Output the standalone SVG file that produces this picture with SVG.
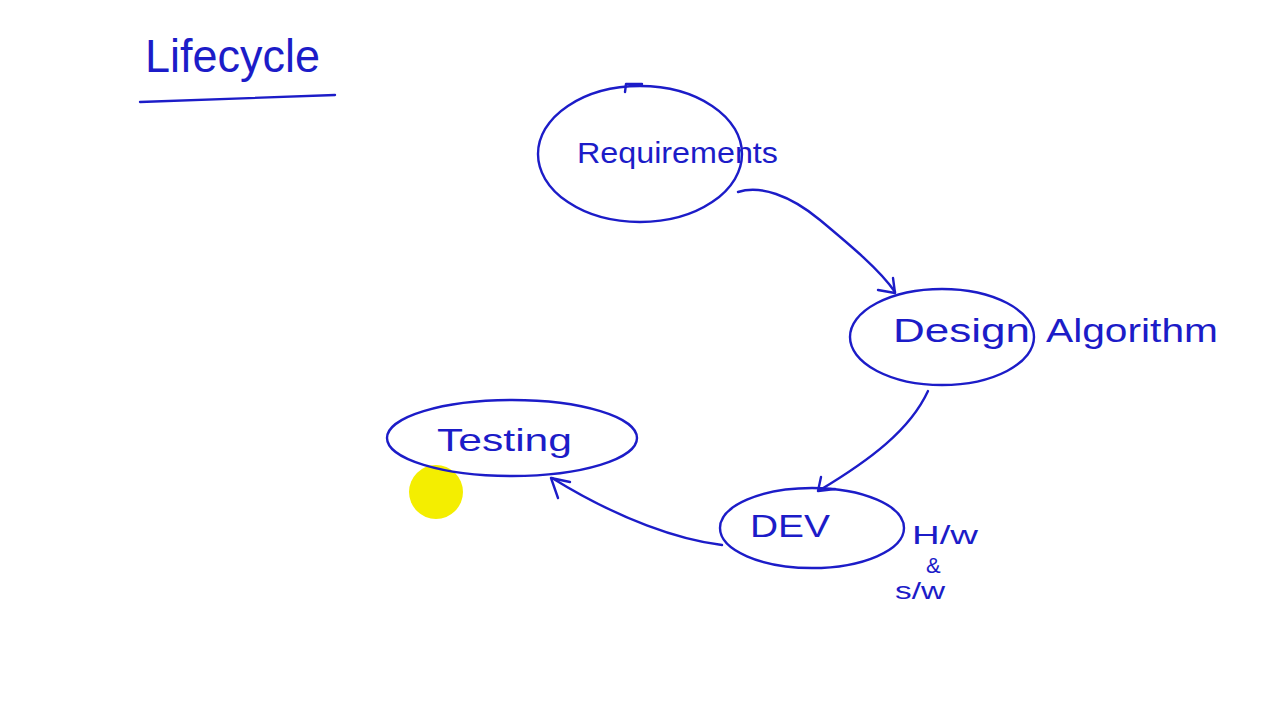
<svg xmlns="http://www.w3.org/2000/svg" width="1280" height="720" viewBox="0 0 1280 720">
<style>
.ink{fill:none;stroke:#1c1cc8;stroke-width:2.4;stroke-linecap:round;stroke-linejoin:round}
.t{font-family:"Liberation Sans",Arial,sans-serif;fill:#1c1cc8}
</style>
<rect width="1280" height="720" fill="#ffffff"/>
<g id="title">
<text class="t" x="145" y="72" font-size="46" textLength="175" lengthAdjust="spacingAndGlyphs">Lifecycle</text>
<path class="ink" d="M140 102 L335 95"/>
</g>
<g id="cursor">
<circle cx="436" cy="492" r="27" fill="#f4ee00"/>
</g>
<g id="requirements">
<ellipse class="ink" cx="640" cy="154" rx="102" ry="68"/>
<path class="ink" d="M625 92 L626 84 L642 84"/>
<text class="t" x="577" y="163" font-size="30" textLength="201" lengthAdjust="spacingAndGlyphs">Requirements</text>
</g>
<g id="design">
<ellipse class="ink" cx="942" cy="337" rx="92" ry="48"/>
<text class="t" x="893" y="342" font-size="34" textLength="137" lengthAdjust="spacingAndGlyphs">Design</text>
<text class="t" x="1046" y="342" font-size="34" textLength="172" lengthAdjust="spacingAndGlyphs">Algorithm</text>
</g>
<g id="dev">
<ellipse class="ink" cx="812" cy="528" rx="92" ry="40"/>
<text class="t" x="750" y="537" font-size="32" textLength="80" lengthAdjust="spacingAndGlyphs">DEV</text>
<text class="t" x="912" y="544" font-size="26" textLength="66" lengthAdjust="spacingAndGlyphs">H/w</text>
<text class="t" x="926" y="573" font-size="22">&amp;</text>
<text class="t" x="895" y="599" font-size="24" textLength="50" lengthAdjust="spacingAndGlyphs">s/w</text>
</g>
<g id="testing">
<ellipse class="ink" cx="512" cy="438" rx="125" ry="38"/>
<text class="t" x="437" y="451" font-size="32" textLength="135" lengthAdjust="spacingAndGlyphs">Testing</text>
</g>
<g id="connectors">
<path class="ink" d="M738 192 C760 185 790 195 820 220 C850 245 880 270 895 292"/>
<path class="ink" d="M878 290 L895 293 L893 278"/>
<path class="ink" d="M928 391 C910 430 870 460 820 490"/>
<path class="ink" d="M821 477 L818 491 L835 489"/>
<path class="ink" d="M722 545 C680 540 620 520 552 478"/>
<path class="ink" d="M558 498 L551 478 L570 482"/>
</g>
</svg>
